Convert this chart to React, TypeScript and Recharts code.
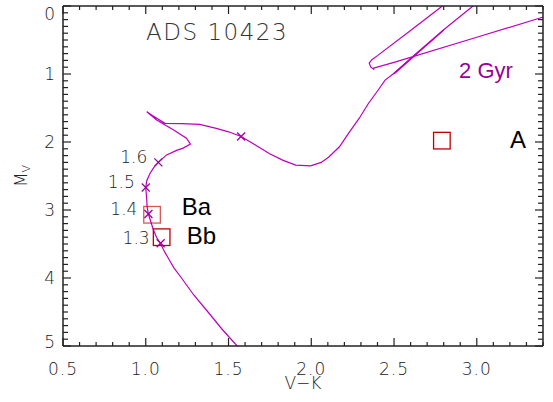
import React from 'react';
import { ComposedChart, Line, Scatter, XAxis, YAxis } from 'recharts';

// 2 Gyr isochrone, V-K vs M_V (points beyond the frame get clipped)
const isoVK = [
  1.6, 1.552, 1.46, 1.376, 1.29, 1.216, 1.17, 1.146, 1.115, 1.09, 1.065, 1.046, 1.03, 1.016, 1.008, 1.006,
  1.0, 1.006, 1.026, 1.05, 1.076, 1.126, 1.19, 1.226, 1.27, 1.246, 1.166, 1.066, 1.006, 1.04, 1.116, 1.22,
  1.326, 1.426, 1.5, 1.576, 1.66, 1.746, 1.83, 1.906, 1.996, 2.06, 2.106, 2.17, 2.226, 2.29, 2.346, 2.4,
  2.446, 2.5, 2.617, 2.8, 2.977, 3.1, 2.9, 2.786, 2.6, 2.4, 2.366, 2.35, 2.36, 2.38, 2.376, 2.5, 3.0, 3.377, 3.5,
];
const isoMv = [
  5.15, 5.0, 4.75, 4.5, 4.25, 4.0, 3.85, 3.75, 3.62, 3.5, 3.4, 3.29, 3.17, 3.06, 2.95, 2.85,
  2.67, 2.57, 2.46, 2.37, 2.3, 2.19, 2.12, 2.09, 2.03, 1.945, 1.82, 1.676, 1.554, 1.61, 1.725, 1.73,
  1.74, 1.8, 1.85, 1.92, 2.04, 2.17, 2.27, 2.34, 2.35, 2.3, 2.22, 2.07, 1.87, 1.65, 1.43, 1.25,
  1.09, 0.99, 0.735, 0.35, 0.0, -0.25, -0.25, 0.01, 0.36, 0.73, 0.79, 0.84, 0.9, 0.935, 0.915, 0.83, 0.46, 0.18, 0.09,
];

// short doubled segment along the giant branch
const clumpVK = [2.496, 2.8, 2.505];
const clumpMv = [1.0, 0.353, 0.99];

// mass markers on the isochrone
const massVK = [1.09, 1.016, 1.0, 1.076, 1.576];
const massMv = [3.49, 3.06, 2.67, 2.3, 1.92];
const massLabels = ['1.3', '1.4', '1.5', '1.6', ''];

// components of ADS 10423
const starNames = ['Ba', 'Bb', 'A'];
const starVK = [1.038, 1.096, 2.789];
const starMv = [3.07, 3.4, 1.98];
const starOpacity = [0.65, 1, 1];

// text annotations
const noteText = ['ADS 10423', '2 Gyr', 'Ba', 'Bb', 'A'];
const noteVK = [1.002, 2.893, 1.218, 1.248, 3.2];
const noteMv = [0.5, 1.06, 3.07, 3.5, 2.09];

const xMajor = [0.5, 1.0, 1.5, 2.0, 2.5, 3.0];
const xMajorLabels = ['0.5', '1.0', '1.5', '2.0', '2.5', '3.0'];
const yMajor = [0, 1, 2, 3, 4, 5];
const yMajorLabels = ['0', '1', '2', '3', '4', '5'];

const xTicks: number[] = [];
for (let i = 5; i <= 34; i++) xTicks.push(Math.round(i) / 10);
const yTicks: number[] = [];
for (let i = 0; i <= 50; i++) yTicks.push(i / 10);

const isoData = isoVK.map((x, i) => ({ x, y: isoMv[i] }));
const clumpData = clumpVK.map((x, i) => ({ x, y: clumpMv[i] }));
const massData = massVK.map((x, i) => ({ x, y: massMv[i], label: massLabels[i] }));
const starData = starVK.map((x, i) => ({ x, y: starMv[i], name: starNames[i], op: starOpacity[i] }));
const noteData = noteText.map((t, i) => ({ x: noteVK[i], y: noteMv[i], text: t }));

const AXIS = '#222';
const THIN = "'DejaVu Sans', sans-serif";
const LINE = '#bb00bb';

const findLabel = (v: number, vals: number[], labels: string[]) => {
  const i = vals.findIndex((m) => Math.abs(m - v) < 1e-6);
  return i >= 0 ? labels[i] : null;
};

const BottomTick = (p: any) => {
  const lab = findLabel(p.payload.value, xMajor, xMajorLabels);
  return (
    <g>
      <line x1={p.x} x2={p.x} y1={p.y} y2={p.y - (lab ? 8 : 4)} stroke={AXIS} strokeWidth={1.2} />
      {lab && (
        <text x={p.x} y={p.y + 29} textAnchor="middle" fontSize={17} fontFamily={THIN} fontWeight={200} fill="#222" letterSpacing={1}>
          {lab}
        </text>
      )}
    </g>
  );
};

const TopTick = (p: any) => {
  const lab = findLabel(p.payload.value, xMajor, xMajorLabels);
  return <line x1={p.x} x2={p.x} y1={p.y} y2={p.y + (lab ? 8 : 4)} stroke={AXIS} strokeWidth={1.2} />;
};

const LeftTick = (p: any) => {
  const v = p.payload.value;
  const lab = findLabel(v, yMajor, yMajorLabels);
  const dy = v < 0.5 ? 14 : v > 4.5 ? 2 : 6;
  return (
    <g>
      <line x1={p.x} x2={p.x + (lab ? 8 : 5)} y1={p.y} y2={p.y} stroke={AXIS} strokeWidth={1.2} />
      {lab && (
        <text x={p.x - 8} y={p.y + dy} textAnchor="end" fontSize={17} fontFamily={THIN} fontWeight={200} fill="#222">
          {lab}
        </text>
      )}
    </g>
  );
};

const RightTick = (p: any) => {
  const lab = findLabel(p.payload.value, yMajor, yMajorLabels);
  return <line x1={p.x} x2={p.x - (lab ? 8 : 5)} y1={p.y} y2={p.y} stroke={AXIS} strokeWidth={1.2} />;
};

const MassMark = (p: any) => {
  const { cx, cy, payload } = p;
  const s = 4;
  return (
    <g>
      <line x1={cx - s} y1={cy - s} x2={cx + s} y2={cy + s} stroke="#a000a0" strokeWidth={1.3} />
      <line x1={cx - s} y1={cy + s} x2={cx + s} y2={cy - s} stroke="#a000a0" strokeWidth={1.3} />
      {payload.label && (
        <text x={cx - 11} y={cy + 0.5} textAnchor="end" fontSize={17} fontFamily={THIN} fontWeight={200} fill="#222">
          {payload.label}
        </text>
      )}
    </g>
  );
};

const StarBox = (p: any) => {
  const { cx, cy, payload } = p;
  const h = 8.3;
  return (
    <rect x={cx - h} y={cy - h} width={2 * h} height={2 * h} fill="none" stroke="#c00000" strokeOpacity={payload.op} strokeWidth={1.3} />
  );
};

const Note = (p: any) => {
  const { cx, cy, payload } = p;
  if (payload.text === 'ADS 10423') {
    return (
      <text x={cx} y={cy} fontSize={23} fontFamily={THIN} fontWeight={200} fill="#333" letterSpacing={1.5}>
        {payload.text}
      </text>
    );
  }
  if (payload.text === '2 Gyr') {
    return (
      <text x={cx} y={cy} fontSize={22} fontFamily="'Liberation Sans', Arial, sans-serif" fill="#990099">
        {payload.text}
      </text>
    );
  }
  return (
    <text x={cx} y={cy} fontSize={24} fontFamily="'Liberation Sans', Arial, sans-serif" fill="#000">
      {payload.text}
    </text>
  );
};

export default function App() {
  return (
    <div style={{ position: 'absolute', left: 0, top: 0, width: 553, height: 402, background: '#fff' }}>
      <ComposedChart width={553} height={402} margin={{ top: 5, right: 9, bottom: 0, left: 0 }}>
        <XAxis
          dataKey="x"
          type="number"
          domain={[0.5, 3.4]}
          allowDataOverflow
          ticks={xTicks}
          interval={0}
          tickLine={false}
          tickSize={0}
          tickMargin={0}
          tick={BottomTick}
          height={56}
          axisLine={{ stroke: AXIS, strokeWidth: 1.5 }}
          label={{
            content: (lp: any) => {
              const vb = lp.viewBox;
              return (
                <text x={vb.x + vb.width / 2} y={389} textAnchor="middle" fontSize={17} fontFamily={THIN} fontWeight={200} fill="#222">
                  V−K
                </text>
              );
            },
          }}
        />
        <XAxis
          xAxisId="top"
          orientation="top"
          dataKey="x"
          type="number"
          domain={[0.5, 3.4]}
          allowDataOverflow
          ticks={xTicks}
          interval={0}
          tickLine={false}
          tickSize={0}
          tickMargin={0}
          tick={TopTick}
          height={1}
          axisLine={{ stroke: AXIS, strokeWidth: 1.5 }}
        />
        <YAxis
          dataKey="y"
          type="number"
          reversed
          domain={[0, 5]}
          allowDataOverflow
          ticks={yTicks}
          interval={0}
          tickLine={false}
          tickSize={0}
          tickMargin={0}
          tick={LeftTick}
          width={63}
          axisLine={{ stroke: AXIS, strokeWidth: 1.5 }}
          label={{
            content: (lp: any) => {
              const vb = lp.viewBox;
              const cy = vb.y + vb.height / 2;
              return (
                <text x={27} y={cy} transform={`rotate(-90, 27, ${cy})`} textAnchor="middle" fontSize={17} fontFamily={THIN} fontWeight={200} fill="#222">
                  M<tspan dy={3} fontSize={11}>V</tspan>
                </text>
              );
            },
          }}
        />
        <YAxis
          yAxisId="right"
          orientation="right"
          dataKey="y"
          type="number"
          reversed
          domain={[0, 5]}
          allowDataOverflow
          ticks={yTicks}
          interval={0}
          tickLine={false}
          tickSize={0}
          tickMargin={0}
          tick={RightTick}
          width={1}
          axisLine={{ stroke: AXIS, strokeWidth: 1.5 }}
        />
        <Line data={isoData} dataKey="y" stroke={LINE} strokeWidth={1.2} dot={false} isAnimationActive={false} />
        <Line data={clumpData} dataKey="y" stroke={LINE} strokeWidth={1.2} dot={false} isAnimationActive={false} />
        <Scatter data={massData} dataKey="y" shape={MassMark} isAnimationActive={false} />
        <Scatter data={starData} dataKey="y" shape={StarBox} isAnimationActive={false} />
        <Scatter data={noteData} dataKey="y" shape={Note} isAnimationActive={false} />
      </ComposedChart>
    </div>
  );
}
